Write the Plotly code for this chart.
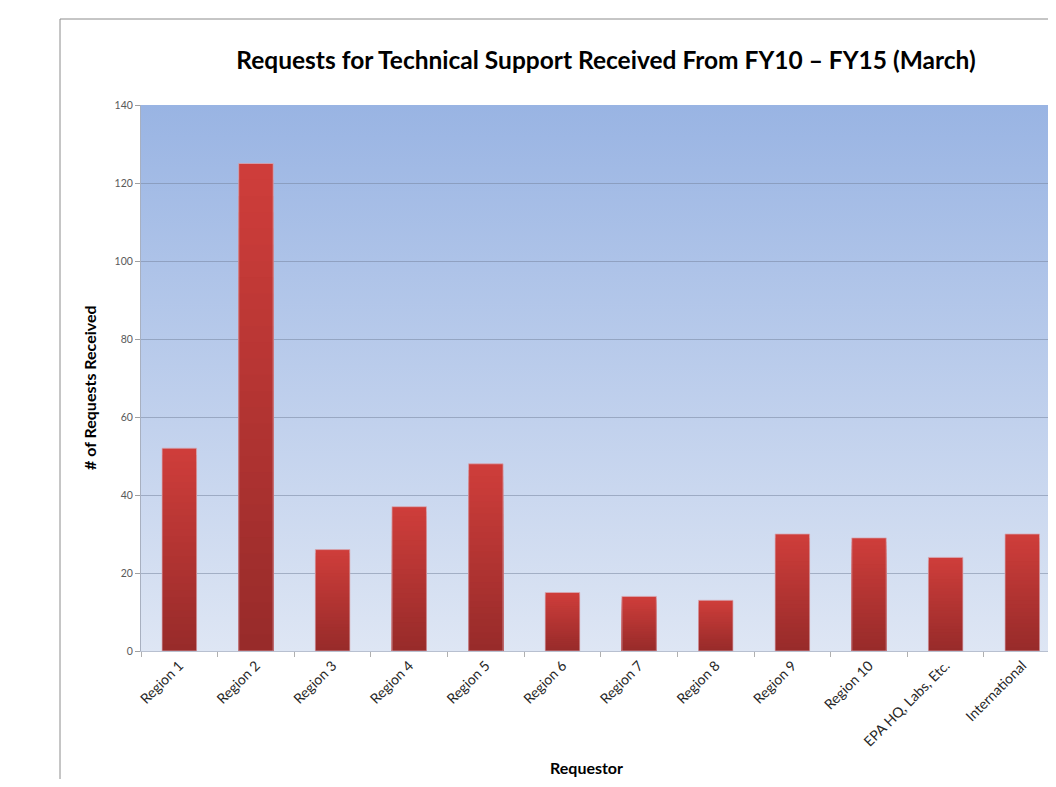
import base64
import plotly.graph_objects as go

categories = ["Region 1", "Region 2", "Region 3", "Region 4", "Region 5", "Region 6",
              "Region 7", "Region 8", "Region 9", "Region 10", "EPA HQ, Labs, Etc.", "International"]
requests = [52, 125, 26, 37, 48, 15, 14, 13, 30, 29, 24, 30]
y_ticks = [0, 20, 40, 60, 80, 100, 120, 140]

title_text = "Requests for Technical Support Received From FY10 \u2013 FY15 (March)"
FONT = "Lato"

# page has an 8px body margin: figure pixel = screen pixel - 8
W, H = 1048, 771
L, T, B = 133, 97, 128
PW, PH = W - L, H - T - B

def px(sx):
    return (sx - 8 - L) / PW

def py(sy):
    return (H - B - (sy - 8)) / PH

# bar vertical gradient: bright top -> dark bottom (overlaid shrinking bars)
top_rgb = (208, 62, 59)
bot_rgb = (152, 43, 42)
N = 30

fig = go.Figure()
for k in range(N):
    frac = (N - k) / N
    t = 1 - frac
    c = tuple(round(top_rgb[i] + (bot_rgb[i] - top_rgb[i]) * (t + 1 / N)) for i in range(3))
    fig.add_trace(go.Bar(
        x=categories,
        y=[v * frac for v in requests],
        marker=dict(color="rgb(%d,%d,%d)" % c, line=dict(width=0)),
        width=0.45,
        hoverinfo="skip",
        showlegend=False,
    ))
# faint outline on top of each bar
fig.add_trace(go.Bar(
    x=categories, y=requests, width=0.45,
    marker=dict(color="rgba(0,0,0,0)", line=dict(color="rgba(215,170,180,0.75)", width=1)),
    showlegend=False,
))

svg = ("<svg xmlns='http://www.w3.org/2000/svg' width='10' height='100'>"
       "<defs><linearGradient id='g' x1='0' y1='0' x2='0' y2='1'>"
       "<stop offset='0' stop-color='#99B4E3'/><stop offset='1' stop-color='#DEE6F4'/>"
       "</linearGradient></defs><rect width='10' height='100' fill='url(#g)'/></svg>")
src = "data:image/svg+xml;base64," + base64.b64encode(svg.encode()).decode()

fig.update_layout(
    width=W, height=H,
    margin=dict(l=L, r=0, t=T, b=B),
    paper_bgcolor="white",
    plot_bgcolor="rgba(0,0,0,0)",
    barmode="overlay",
    font=dict(family=FONT),
    title=dict(text="<b>" + title_text + "</b>", x=(606 - 8) / W, xanchor="center",
               y=1 - (60 - 8) / H, yanchor="middle",
               font=dict(family=FONT, size=24.5, color="black")),
    images=[dict(source=src, xref="paper", yref="paper", x=0, y=1, sizex=1, sizey=1,
                 xanchor="left", yanchor="top", sizing="stretch", layer="below")],
    xaxis=dict(
        type="category", range=[-0.5, 11.44],
        tickangle=-45, tickson="boundaries", ticks="outside", ticklen=5,
        tickcolor="#B0B0B0", showline=True, linecolor="#B8C0D0", linewidth=1,
        tickfont=dict(family=FONT, size=14, color="#262626"),
        showgrid=False,
    ),
    yaxis=dict(
        range=[0, 140], tickvals=y_ticks, ticks="outside", ticklen=5,
        tickcolor="#A0A0A0", showline=True, linecolor="#A8B0C0", linewidth=1,
        gridcolor="rgba(120,135,160,0.55)", gridwidth=1,
        tickfont=dict(family=FONT, size=10.5, color="#595959"),
        zeroline=False,
    ),
    annotations=[
        dict(text="<b># of Requests Received</b>", xref="paper", yref="paper",
             x=px(90), y=py(388), textangle=-90, showarrow=False,
             xanchor="center", yanchor="middle",
             font=dict(family=FONT, size=16, color="black")),
        dict(text="<b>Requestor</b>", xref="paper", yref="paper",
             x=px(586), y=py(767), showarrow=False,
             xanchor="center", yanchor="middle",
             font=dict(family=FONT, size=16, color="black")),
    ],
    shapes=[
        dict(type="line", xref="paper", yref="paper",
             x0=px(60), x1=px(60), y0=-0.4, y1=py(19),
             line=dict(color="#8C8C8C", width=1)),
        dict(type="line", xref="paper", yref="paper",
             x0=px(60), x1=1.05, y0=py(19), y1=py(19),
             line=dict(color="#8C8C8C", width=1)),
    ],
)

fig.write_html("out.html")
